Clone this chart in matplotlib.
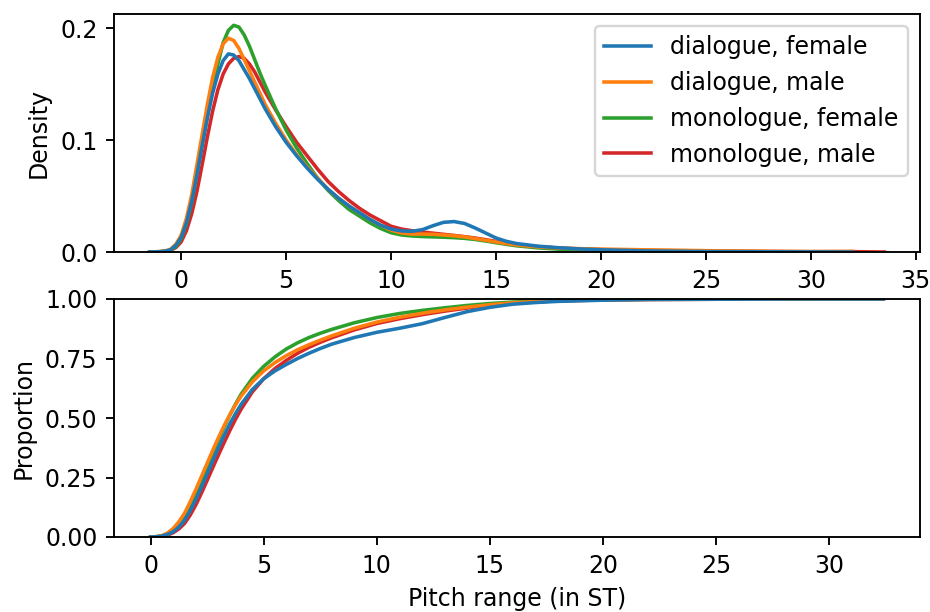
import numpy as np
import matplotlib.pyplot as plt

# ===== pitch range distributions per speech style / gender ===== #
labels = ["dialogue, female", "dialogue, male", "monologue, female", "monologue, male"]
colors = ["tab:blue", "tab:orange", "tab:green", "tab:red"]
nan = np.nan

# density curves (top panel)
dens_x = [-1.5, -1.0, -0.75, -0.5, -0.25, 0.0, 0.25, 0.5, 0.75, 1.0, 1.25, 1.5, 1.75, 2.0,
          2.25, 2.5, 2.75, 3.0, 3.25, 3.5, 3.75, 4.0, 4.5, 5.0, 5.5, 6.0, 6.5, 7.0, 7.5, 8.0,
          8.5, 9.0, 9.5, 10.0, 10.5, 11.0, 11.5, 12.0, 12.5, 13.0, 13.5, 14.0, 14.5, 15.0,
          15.5, 16.0, 17.0, 18.0, 19.0, 20.0, 22.0, 25.0, 28.0, 30.0, 32.0, 33.5]
dens_df = [0.0, 0.0003, 0.0008, 0.002, 0.006, 0.013, 0.026, 0.045, 0.069, 0.095, 0.12, 0.142, 0.159, 0.171,
           0.177, 0.176, 0.171, 0.163, 0.155, 0.146, 0.137, 0.128, 0.112, 0.098, 0.086, 0.075, 0.065, 0.056, 0.048, 0.041,
           0.035, 0.029, 0.024, 0.0205, 0.0188, 0.0185, 0.020, 0.0235, 0.0265, 0.0272, 0.0255, 0.0215, 0.017, 0.0125,
           0.0095, 0.0075, 0.0052, 0.0038, 0.0027, 0.002, 0.001, 0.0004, 0.0002, 0.0001, 0.0, nan]
dens_dm = [0.0, 0.0004, 0.001, 0.0025, 0.007, 0.015, 0.03, 0.051, 0.078, 0.105, 0.132, 0.156, 0.174, 0.186,
           0.191, 0.189, 0.182, 0.172, 0.162, 0.152, 0.142, 0.132, 0.115, 0.1, 0.087, 0.076, 0.066, 0.056, 0.048, 0.041,
           0.035, 0.029, 0.024, 0.0195, 0.017, 0.016, 0.016, 0.0158, 0.0152, 0.0145, 0.0135, 0.012, 0.0105, 0.009,
           0.0075, 0.0062, 0.0045, 0.0035, 0.003, 0.0026, 0.002, 0.0012, 0.0006, 0.0004, 0.0006, nan]
dens_mf = [0.0, 0.0003, 0.0007, 0.0018, 0.005, 0.012, 0.025, 0.044, 0.07, 0.096, 0.122, 0.146, 0.168, 0.187,
           0.198, 0.2025, 0.201, 0.194, 0.184, 0.172, 0.16, 0.149, 0.128, 0.109, 0.093, 0.079, 0.066, 0.055, 0.046, 0.038,
           0.032, 0.026, 0.021, 0.0172, 0.0152, 0.0143, 0.0138, 0.0135, 0.0132, 0.0128, 0.0122, 0.0112, 0.0098, 0.0083,
           0.0068, 0.0055, 0.0037, 0.0025, 0.0017, 0.0012, 0.0006, 0.0002, 0.0001, 0.0, nan, nan]
dens_mm = [0.0, 0.0002, 0.0006, 0.0015, 0.004, 0.009, 0.019, 0.034, 0.054, 0.078, 0.103, 0.126, 0.145, 0.159,
           0.168, 0.173, 0.1746, 0.173, 0.168, 0.161, 0.152, 0.143, 0.127, 0.112, 0.098, 0.086, 0.074, 0.063, 0.054, 0.046,
           0.039, 0.033, 0.028, 0.023, 0.0205, 0.019, 0.0178, 0.0168, 0.0158, 0.0148, 0.0137, 0.0125, 0.011, 0.0095,
           0.008, 0.0067, 0.0048, 0.0035, 0.0027, 0.0021, 0.0014, 0.0009, 0.0005, 0.0003, 0.0003, 0.0]

# cumulative curves (bottom panel)
cum_x = [0.0, 0.25, 0.5, 0.75, 1.0, 1.25, 1.5, 1.75, 2.0, 2.25, 2.5, 2.75, 3.0, 3.25, 3.5, 3.75, 4.0,
         4.5, 5.0, 5.5, 6.0, 6.5, 7.0, 7.5, 8.0, 9.0, 10.0, 11.0, 12.0, 13.0, 14.0, 15.0, 16.0, 17.0,
         18.0, 20.0, 22.0, 25.0, 28.0, 32.4]
cum_df = [0.0, 0.001, 0.004, 0.011, 0.022, 0.042, 0.07, 0.11, 0.158, 0.21, 0.265, 0.32, 0.375, 0.427, 0.475, 0.518, 0.557,
          0.62, 0.665, 0.698, 0.725, 0.75, 0.772, 0.792, 0.81, 0.838, 0.86, 0.877, 0.896, 0.922, 0.947, 0.965, 0.978, 0.985,
          0.99, 0.995, 0.998, 0.999, 1.0, 1.0]
cum_dm = [0.0, 0.002, 0.006, 0.017, 0.036, 0.064, 0.10, 0.148, 0.2, 0.255, 0.31, 0.365, 0.418, 0.468, 0.513, 0.555, 0.592,
          0.652, 0.698, 0.733, 0.762, 0.787, 0.808, 0.827, 0.845, 0.877, 0.903, 0.923, 0.94, 0.954, 0.966, 0.976, 0.984, 0.989,
          0.993, 0.997, 0.998, 0.999, 0.9995, 1.0]
cum_mf = [0.0, 0.001, 0.004, 0.012, 0.027, 0.05, 0.085, 0.13, 0.182, 0.238, 0.295, 0.352, 0.408, 0.462, 0.512, 0.558, 0.6,
          0.667, 0.717, 0.757, 0.79, 0.816, 0.838, 0.856, 0.872, 0.9, 0.922, 0.939, 0.952, 0.963, 0.973, 0.981, 0.987, 0.991,
          0.994, 0.997, 0.999, 1.0, 1.0, 1.0]
cum_mm = [0.0, 0.001, 0.003, 0.008, 0.018, 0.034, 0.057, 0.092, 0.135, 0.185, 0.238, 0.292, 0.345, 0.397, 0.447, 0.494, 0.537,
          0.61, 0.665, 0.708, 0.742, 0.772, 0.797, 0.818, 0.837, 0.87, 0.897, 0.917, 0.934, 0.949, 0.962, 0.973, 0.982, 0.988,
          0.992, 0.996, 0.998, 0.999, 0.9995, 1.0]

dens = [dens_df, dens_dm, dens_mf, dens_mm]
cums = [cum_df, cum_dm, cum_mf, cum_mm]

# ======================================= #
fig = plt.figure(figsize=(930 / 170, 612 / 170), dpi=170)
ax1 = fig.add_axes([114 / 930, 1 - 252 / 612, 806 / 930, 238 / 612])
ax2 = fig.add_axes([114 / 930, 1 - 537 / 612, 806 / 930, 238 / 612])

# draw last group first so the first one sits on top
for i in range(3, -1, -1):
    ax1.plot(dens_x, dens[i], color=colors[i], lw=1.5, label=labels[i], solid_joinstyle='round')
    ax2.plot(cum_x, cums[i], color=colors[i], lw=1.5, solid_joinstyle='round')

ax1.set_xlim(-3.2, 35.2)
ax1.set_ylim(0, np.nanmax(dens) * 1.05)
ax1.set_ylabel('Density')
ax1.set_yticks([0.0, 0.1, 0.2])
ax1.set_xticks(np.arange(0, 36, 5))
handles, lbls = ax1.get_legend_handles_labels()
ax1.legend(handles[::-1], lbls[::-1], loc='upper right')

ax2.set_xlim(-1.62, 34.02)
ax2.set_ylim(0, 1)
ax2.set_yticks([0.0, 0.25, 0.5, 0.75, 1.0])
ax2.set_ylabel('Proportion')
ax2.set_xlabel('Pitch range (in ST)')

fig.savefig('out.png', dpi=170)
